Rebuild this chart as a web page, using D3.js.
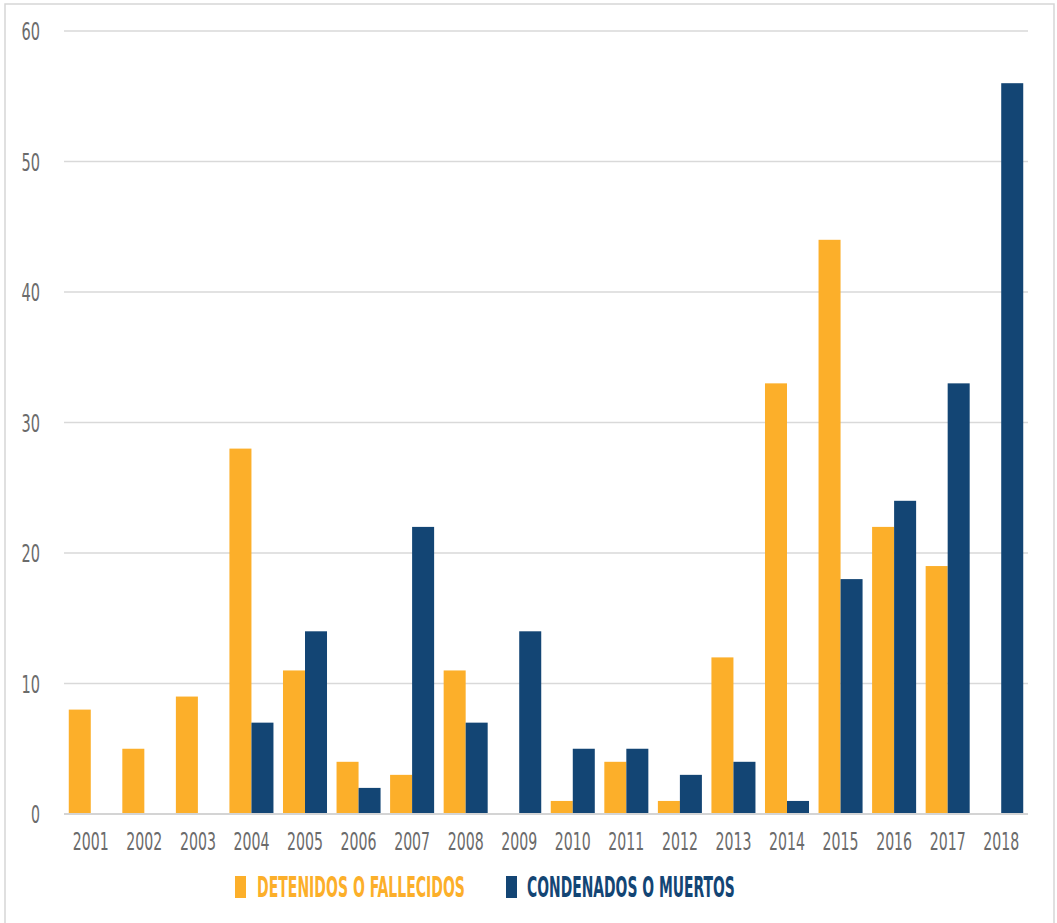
<!DOCTYPE html>
<html>
<head>
<meta charset="utf-8">
<script src="https://cdn.jsdelivr.net/npm/d3@7"></script>
<style>
  html, body { margin: 0; padding: 0; background: #fff; }
  svg { display: block; }
  text { font-family: "DejaVu Sans Condensed", "DejaVu Sans", sans-serif; }
</style>
</head>
<body>
<svg id="chart" width="1057" height="923"></svg>
<script>
const years = ["2001","2002","2003","2004","2005","2006","2007","2008","2009",
               "2010","2011","2012","2013","2014","2015","2016","2017","2018"];
const detenidos  = [8, 5, 9, 28, 11, 4, 3, 11, 0, 1, 4, 1, 12, 33, 44, 22, 19, 0];
const condenados = [0, 0, 0, 7, 14, 2, 22, 7, 14, 5, 5, 3, 4, 1, 18, 24, 33, 56];
const seriesNames = ["DETENIDOS O FALLECIDOS", "CONDENADOS O MUERTOS"];
const yTicks = [0, 10, 20, 30, 40, 50, 60];

const colors = ["#FCAF2A", "#134574"];
const textGray = "#6b6b6b";

const svg = d3.select("#chart");

// squeeze a text horizontally (around its anchor) so that it spans `width` px
function condense(sel, width) {
  sel.each(function () {
    const len = this.getComputedTextLength();
    const s = len > 0 ? width / len : 1;
    const prev = d3.select(this).attr("transform") || "";
    d3.select(this).attr("transform", prev + ` scale(${s},1)`);
  });
}

// outer frame
svg.append("rect")
  .attr("x", 5).attr("y", 4).attr("width", 1049).attr("height", 940)
  .attr("fill", "none").attr("stroke", "#d6d6d6").attr("stroke-width", 1.5);

const x0 = d3.scaleBand().domain(years).range([64, 1028])
  .paddingInner(0.178).paddingOuter(0.089);
const x1 = d3.scaleBand().domain([0, 1]).range([0, x0.bandwidth()]);
const y = d3.scaleLinear().domain([0, 60]).range([814, 31]);

// horizontal gridlines
svg.append("g").selectAll("line")
  .data(yTicks.filter(t => t > 0))
  .join("line")
  .attr("x1", 64).attr("x2", 1028)
  .attr("y1", d => y(d)).attr("y2", d => y(d))
  .attr("stroke", "#d9d9d9").attr("stroke-width", 1.3);

// y axis labels
const yAxis = svg.append("g")
  .attr("transform", "translate(40,0)")
  .call(d3.axisLeft(y).tickValues(yTicks).tickSize(0).tickPadding(0));
yAxis.select(".domain").remove();
yAxis.selectAll("text")
  .attr("fill", textGray).attr("font-size", 24)
  .attr("x", 0).attr("dy", "0.36em")
  .each(function (d) {
    const w = String(d).length === 1 ? 9 : 18.5;
    condense(d3.select(this), w);
  });

// bars
const rows = years.map((yr, i) => ({ year: yr, values: [detenidos[i], condenados[i]] }));
const groups = svg.append("g").selectAll("g")
  .data(rows).join("g")
  .attr("transform", d => `translate(${x0(d.year)},0)`);
groups.selectAll("rect")
  .data(d => d.values.map((v, k) => ({ k, v })).filter(e => e.v > 0))
  .join("rect")
  .attr("x", e => x1(e.k))
  .attr("width", x1.bandwidth())
  .attr("y", e => y(e.v))
  .attr("height", e => y(0) - y(e.v))
  .attr("fill", e => colors[e.k]);

// baseline
svg.append("line")
  .attr("x1", 64).attr("x2", 1028)
  .attr("y1", y(0)).attr("y2", y(0))
  .attr("stroke", "#d4d4d4").attr("stroke-width", 2);

// x axis labels
const xAxis = svg.append("g")
  .attr("transform", `translate(0,${y(0)})`)
  .call(d3.axisBottom(x0).tickSize(0).tickPadding(0));
xAxis.select(".domain").remove();
xAxis.selectAll("text")
  .attr("fill", textGray).attr("font-size", 24)
  .attr("y", 36.5).attr("dy", 0)
  .call(condense, 36);

// legend
const legendItems = [
  { name: seriesNames[0], color: colors[0], sx: 235, tx: 257, w: 208 },
  { name: seriesNames[1], color: colors[1], sx: 506, tx: 527, w: 208 }
];
const legend = svg.append("g");
legendItems.forEach(it => {
  legend.append("rect")
    .attr("x", it.sx).attr("y", 876).attr("width", 11).attr("height", 22)
    .attr("fill", it.color);
  legend.append("g")
    .attr("transform", `translate(${it.tx},897)`)
    .append("text")
    .attr("x", 0).attr("y", 0)
    .attr("font-size", 28.5).attr("font-weight", "bold")
    .attr("fill", it.color)
    .text(it.name)
    .call(condense, it.w);
});
</script>
</body>
</html>
